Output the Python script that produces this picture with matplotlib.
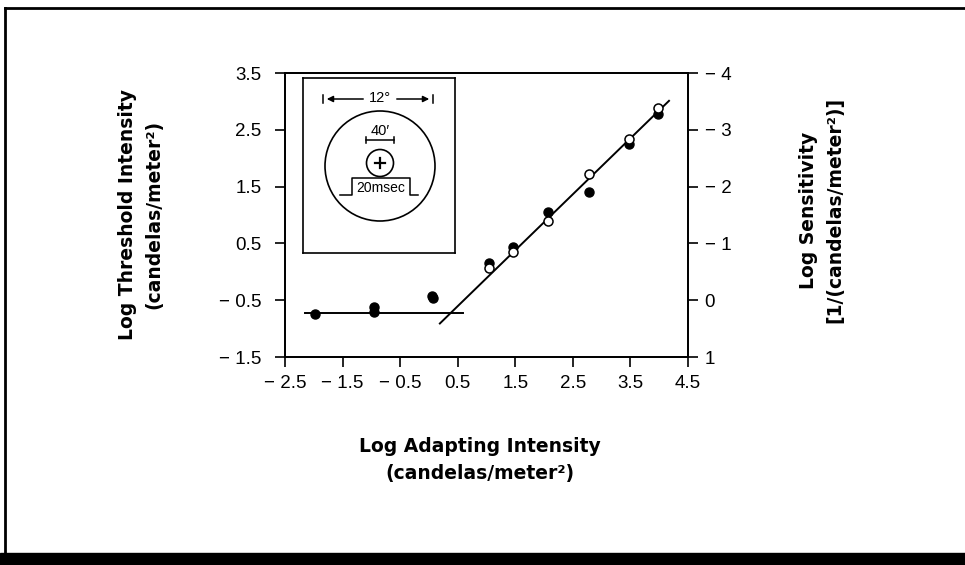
import matplotlib
matplotlib.use("Agg")
import matplotlib.pyplot as plt
from matplotlib.patches import Circle, Rectangle
from matplotlib.lines import Line2D

plt.rcParams['font.family'] = ['Liberation Sans', 'DejaVu Sans']

# ---- data ----
open_x = [1.04, 1.46, 2.07, 2.78, 3.47, 3.98]
open_y = [0.06, 0.34, 0.90, 1.72, 2.34, 2.88]
filled_x = [-1.98, -0.95, -0.95, 0.05, 0.07, 1.04, 1.46, 2.07, 2.78, 3.47, 3.98]
filled_y = [-0.75, -0.62, -0.70, -0.42, -0.46, 0.16, 0.44, 1.06, 1.41, 2.25, 2.78]
plateau_x = [-2.15, 0.6]
plateau_y = [-0.73, -0.73]
slope_x = [0.19, 4.17]
slope_y = [-0.91, 3.01]

x_ticks = [-2.5, -1.5, -0.5, 0.5, 1.5, 2.5, 3.5, 4.5]
x_labels = ["\u2212 2.5", "\u2212 1.5", "\u2212 0.5", "0.5", "1.5", "2.5", "3.5", "4.5"]
y_ticks = [-1.5, -0.5, 0.5, 1.5, 2.5, 3.5]
y_labels = ["\u2212 1.5", "\u2212 0.5", "0.5", "1.5", "2.5", "3.5"]
r_ticks = [-4, -3, -2, -1, 0, 1]
r_labels = ["\u2212 4", "\u2212 3", "\u2212 2", "\u2212 1", "0", "1"]

W, H = 965, 565
fig = plt.figure(figsize=(W / 100, H / 100), dpi=100)

def fx(px):
    return px / W

def fy(py):
    return 1 - py / H

ax = fig.add_axes([fx(285), fy(357), fx(688) - fx(285), fy(73) - fy(357)])
ax.set_xlim(-2.5, 4.5)
ax.set_ylim(-1.5, 3.5)
ax.set_xticks(x_ticks)
ax.set_xticklabels(x_labels)
ax.set_yticks(y_ticks)
ax.set_yticklabels(y_labels)
ax.tick_params(axis='x', direction='out', length=7, width=1.2, labelsize=13.5, pad=6)
ax.tick_params(axis='y', direction='out', length=7, width=1.2, labelsize=13.5, pad=10)
for s in ax.spines.values():
    s.set_linewidth(1.3)

ax.plot(plateau_x, plateau_y, color='black', lw=1.4)
ax.plot(slope_x, slope_y, color='black', lw=1.4)
ax.plot(filled_x, filled_y, 'o', color='black', ms=6.5, zorder=3)
ax.plot(open_x, open_y, 'o', mfc='white', mec='black', mew=1.1, ms=6.5, zorder=4)

ax2 = ax.twinx()
ax2.set_ylim(1, -4)
ax2.set_yticks(r_ticks)
ax2.set_yticklabels(r_labels)
ax2.tick_params(direction='out', length=7, width=1.2, labelsize=13.5, pad=5)
for s in ax2.spines.values():
    s.set_linewidth(1.3)

# ---- axis labels ----
lab = dict(fontsize=13.5, fontweight='bold', linespacing=1.5,
           multialignment='center', family='DejaVu Sans')
fig.text(fx(141), fy(214), "Log Threshold Intensity\n(candelas/meter\u00b2)",
         rotation=90, ha='center', va='center', **lab)
fig.text(fx(822), fy(210), "Log Sensitivity\n[1/(candelas/meter\u00b2)]",
         rotation=90, ha='center', va='center', **lab)
fig.text(fx(480), fy(460), "Log Adapting Intensity\n(candelas/meter\u00b2)",
         ha='center', va='center', **lab)

# ---- inset (pixel coordinates) ----
L, R, T, B = 303, 455, 78, 253
ins = fig.add_axes([fx(L), fy(B), fx(R) - fx(L), fy(T) - fy(B)])
ins.set_xlim(L, R)
ins.set_ylim(B, T)
ins.set_xticks([])
ins.set_yticks([])
for s in ins.spines.values():
    s.set_linewidth(1.2)

k = dict(color='black', lw=1.1)
# 12 degree dimension
ins.plot([323, 323], [95, 103], **k)
ins.plot([433, 433], [95, 103], **k)
ins.annotate('', xy=(324, 99), xytext=(366, 99),
             arrowprops=dict(arrowstyle='-|>', color='black', lw=1.1, mutation_scale=9))
ins.annotate('', xy=(432, 99), xytext=(394, 99),
             arrowprops=dict(arrowstyle='-|>', color='black', lw=1.1, mutation_scale=9))
ins.text(380, 98, "12\u00b0", ha='center', va='center', fontsize=10.5)
# big circle
ins.add_patch(Circle((380, 166), 55, fill=False, ec='black', lw=1.2))
# 40' dimension
ins.text(380, 131, "40\u2032", ha='center', va='center', fontsize=10.5)
ins.plot([366, 394], [140, 140], **k)
ins.plot([366, 366], [137, 143], **k)
ins.plot([394, 394], [137, 143], **k)
# small circle with plus
ins.add_patch(Circle((380, 163), 13.5, fill=False, ec='black', lw=1.2))
ins.plot([375, 385], [163, 163], color='black', lw=1.6)
ins.plot([380, 380], [158, 168], color='black', lw=1.6)
# pulse
ins.plot([340, 352, 352, 410, 410, 418], [195, 195, 178, 178, 195, 195], **k)
ins.text(381, 188, "20msec", ha='center', va='center', fontsize=10)

# ---- page frame ----
fig.add_artist(Line2D([fx(5), 1], [fy(8), fy(8)], color='black', lw=2))
fig.add_artist(Line2D([fx(5), fx(5)], [fy(8), fy(553)], color='black', lw=2))
fig.add_artist(Rectangle((0, 0), 1, fy(553), color='black', transform=fig.transFigure))

fig.savefig("out.png", dpi=100)
